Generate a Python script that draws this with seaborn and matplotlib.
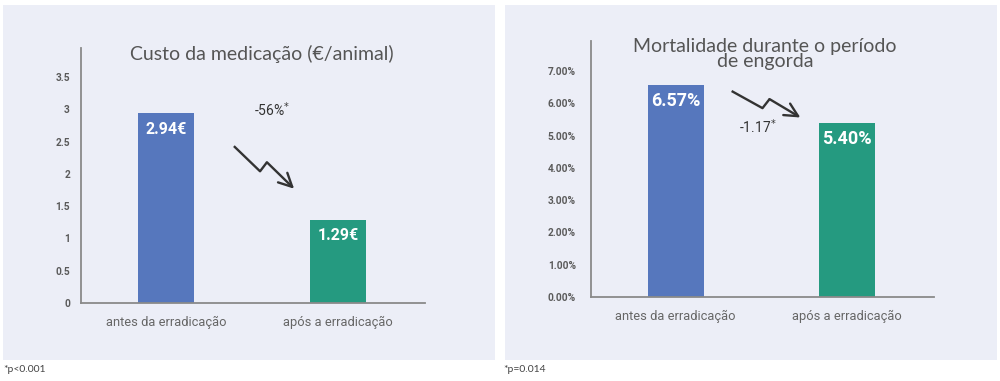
import matplotlib
matplotlib.use("Agg")
import matplotlib.pyplot as plt
from matplotlib import font_manager
from matplotlib.patches import Rectangle
import seaborn as sns

# ---- data ----
categories = ["antes da erradicação", "após a erradicação"]
cost_values = [2.94, 1.29]
cost_labels = ["2.94€", "1.29€"]
mort_values = [6.57, 5.40]
mort_labels = ["6.57%", "5.40%"]
cost_ticks = [0, 0.5, 1, 1.5, 2, 2.5, 3, 3.5]
cost_ticklabels = ["0", "0.5", "1", "1.5", "2", "2.5", "3", "3.5"]
mort_ticks = [0, 1, 2, 3, 4, 5, 6, 7]
mort_ticklabels = ["0.00%", "1.00%", "2.00%", "3.00%", "4.00%", "5.00%", "6.00%", "7.00%"]
cost_title = "Custo da medicação (€/animal)"
mort_title = "Mortalidade durante o período\nde engorda"
cost_change = "-56%"
mort_change = "-1.17"
cost_note = "*p<0.001"
mort_note = "*p=0.014"

colors = ["#5677bd", "#259a80"]
bg = "#eceef7"
grey = "#5a5a5a"

sns.set_theme(style="white")
names = {f.name for f in font_manager.fontManager.ttflist}
narrow = "Liberation Sans Narrow" if "Liberation Sans Narrow" in names else "Roboto"
title_font = "Lato" if "Lato" in names else "DejaVu Sans"
plt.rcParams["font.family"] = [narrow, "DejaVu Sans"]

fig = plt.figure(figsize=(10, 3.81), dpi=100)
fig.patch.set_facecolor("white")
W, H = 1000, 381
# panel backgrounds
fig.patches.append(Rectangle((3 / W, 1 - 360 / H), 492 / W, 355 / H,
                             transform=fig.transFigure, facecolor=bg, edgecolor="none", zorder=-10))
fig.patches.append(Rectangle((505 / W, 1 - 360 / H), 492 / W, 355 / H,
                             transform=fig.transFigure, facecolor=bg, edgecolor="none", zorder=-10))

ax1 = fig.add_axes([81 / W, 1 - 303 / H, 344 / W, 255 / H])
ax2 = fig.add_axes([591 / W, 1 - 297 / H, 343 / W, 256 / H])


def style_axes(ax, ticks, ticklabels, ylim, pad):
    ax.set_facecolor("none")
    ax.set_ylim(0, ylim)
    ax.set_xlim(-0.494, 1.506)
    ax.set_yticks(ticks)
    ax.set_yticklabels(ticklabels, fontsize=7.3, fontweight="bold", color=grey)
    ax.tick_params(axis="y", length=0, pad=pad)
    ax.tick_params(axis="x", length=0, pad=9)
    for lab in ax.get_xticklabels():
        lab.set_fontsize(9.3)
        lab.set_color("#666666")
    for s in ["top", "right"]:
        ax.spines[s].set_visible(False)
    for s in ["left", "bottom"]:
        ax.spines[s].set_color("#8a8a8a")
        ax.spines[s].set_linewidth(1.3)
    ax.set_xlabel("")
    ax.set_ylabel("")


sns.barplot(x=categories, y=cost_values, hue=categories, palette=colors,
            width=0.325, legend=False, ax=ax1, saturation=1, linewidth=0)
sns.barplot(x=categories, y=mort_values, hue=categories, palette=colors,
            width=0.325, legend=False, ax=ax2, saturation=1, linewidth=0)
style_axes(ax1, cost_ticks, cost_ticklabels, 3.95, 8)
style_axes(ax2, mort_ticks, mort_ticklabels, 7.93, 11)

for ax, vals, labs, fs in [(ax1, cost_values, cost_labels, 11.5), (ax2, mort_values, mort_labels, 13)]:
    for i, (v, l) in enumerate(zip(vals, labs)):
        ax.annotate(l, xy=(i, v), xytext=(0, -16), textcoords="offset pixels",
                    ha="center", va="center", color="white", fontsize=fs, fontweight="bold")

# zig-zag arrows
arrow_col = "#333333"
ax1.plot([0.395, 0.547, 0.587], [2.43, 2.04, 2.18], color=arrow_col, lw=1.7, solid_capstyle="butt")
ax1.annotate("", xy=(0.745, 1.77), xytext=(0.587, 2.18),
             arrowprops=dict(arrowstyle="->", lw=1.7, color=arrow_col, mutation_scale=24, shrinkA=0, shrinkB=0))
ax2.plot([0.326, 0.506, 0.547], [6.38, 5.85, 6.13], color=arrow_col, lw=1.7, solid_capstyle="butt")
ax2.annotate("", xy=(0.727, 5.56), xytext=(0.547, 6.13),
             arrowprops=dict(arrowstyle="->", lw=1.7, color=arrow_col, mutation_scale=24, shrinkA=0, shrinkB=0))

ax1.text(0.616, 3.0, cost_change + r"$^{*}$", ha="center", va="center", fontsize=10, color="#333333")
ax2.text(0.477, 5.26, mort_change + r"$^{*}$", ha="center", va="center", fontsize=10, color="#333333")

fig.text(262 / W, 1 - 54 / H, cost_title, ha="center", va="center", fontsize=14,
         color="#555555", family=title_font)
fig.text(765 / W, 1 - 54 / H, mort_title, ha="center", va="center", fontsize=14,
         color="#555555", family=title_font, linespacing=0.85)

fig.text(3 / W, 1 - 370 / H, cost_note, ha="left", va="center", fontsize=7.5, color="#444444", family=title_font)
fig.text(503 / W, 1 - 370 / H, mort_note, ha="left", va="center", fontsize=7.5, color="#444444", family=title_font)

fig.savefig("out.png", dpi=100, facecolor="white")
